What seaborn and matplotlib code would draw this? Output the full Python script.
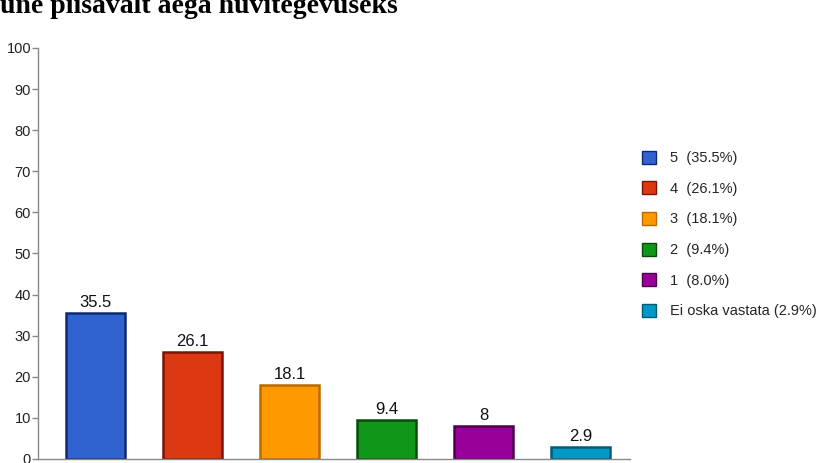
import matplotlib
matplotlib.use("Agg")
import matplotlib.pyplot as plt
import seaborn as sns
import pandas as pd
from matplotlib.patches import Patch

categories = ["5", "4", "3", "2", "1", "Ei oska vastata"]
values = [35.5, 26.1, 18.1, 9.4, 8.0, 2.9]
value_labels = ["35.5", "26.1", "18.1", "9.4", "8", "2.9"]
legend_labels = ["5  (35.5%)", "4  (26.1%)", "3  (18.1%)", "2  (9.4%)", "1  (8.0%)", "Ei oska vastata (2.9%)"]
colors = ["#3063cf", "#dc3912", "#ff9900", "#109618", "#990099", "#0099c6"]
edge_colors = ["#0e2a6e", "#7a1505", "#b86a00", "#064d0a", "#4d004d", "#005a75"]
yticks = [0, 10, 20, 30, 40, 50, 60, 70, 80, 90, 100]
title = "une piisavalt aega huvitegevuseks"

sns.set_theme(style="white")
plt.rcParams["font.family"] = ["Liberation Sans", "DejaVu Sans"]

df = pd.DataFrame({"cat": categories, "val": values})

fig = plt.figure(figsize=(8.35, 4.63), dpi=100)
ax = fig.add_axes([38 / 835, 4 / 463, (630 - 38) / 835, (459 - 48) / 463])

sns.barplot(data=df, x="cat", y="val", hue="cat", palette=colors, dodge=False,
            width=0.61, legend=False, ax=ax, saturation=1)
for patch, ec in zip(ax.patches, edge_colors):
    patch.set_edgecolor(ec)
    patch.set_linewidth(1.8)

for i, (v, lab) in enumerate(zip(values, value_labels)):
    ax.text(i, v + 0.7, lab, ha="center", va="bottom", fontsize=12, color="#111111")

ax.set_ylim(0, 100)
ax.set_xlim(-0.593, 5.51)
ax.set_yticks(yticks)
ax.set_yticklabels([str(t) for t in yticks], fontsize=10.5, color="#222222")
ax.set_xticks([])
ax.set_xlabel("")
ax.set_ylabel("")
for s in ["top", "right"]:
    ax.spines[s].set_visible(False)
for s in ["left", "bottom"]:
    ax.spines[s].set_color("#888888")
    ax.spines[s].set_linewidth(1)
ax.tick_params(axis="y", left=True, length=4, width=1, color="#888888", pad=1)

handles = [Patch(facecolor=c, edgecolor=e, linewidth=1) for c, e in zip(colors, edge_colors)]
fig.legend(handles, legend_labels, loc="upper left", bbox_to_anchor=(636 / 835, 1 - 145 / 463),
           frameon=False, fontsize=10.5, handlelength=1.0, handleheight=1.0,
           handletextpad=0.9, labelspacing=1.1, borderaxespad=0)

fig.text(0.0, 1 - 13 / 463, title, ha="left", va="baseline", fontsize=20,
         fontweight="bold", family=["Liberation Serif", "DejaVu Serif"], color="black")

fig.savefig("out.png", dpi=100)
